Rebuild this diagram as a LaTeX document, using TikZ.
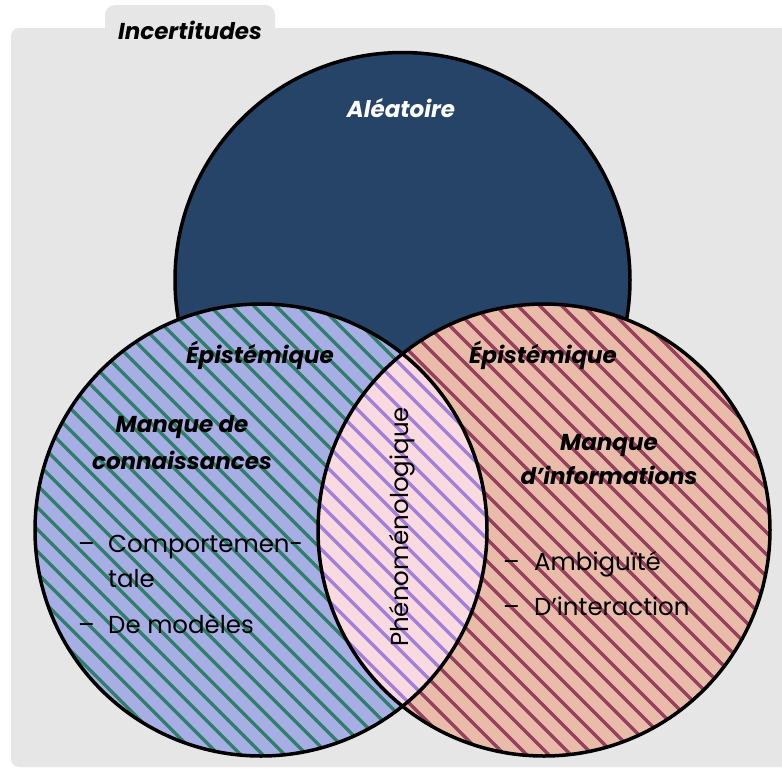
\documentclass[tikz,border=0pt]{standalone}
\usepackage{fontspec}
\setmainfont{Poppins}
\definecolor{bgGray}{HTML}{E6E6E6}
\definecolor{navy}{HTML}{264468}
\definecolor{leftFill}{HTML}{A7AEE3}
\definecolor{leftLine}{HTML}{2F7F6C}
\definecolor{rightFill}{HTML}{E8BCA8}
\definecolor{rightLine}{HTML}{96405F}
\definecolor{lensFill}{HTML}{F9DAE0}
\definecolor{lensLine}{HTML}{A37FD9}
\tikzset{
  outline/.style={draw=black, line width=3.5pt},
  hatch/.style={line width=3.2pt, draw=#1},
  boldlab/.style={font=\fontsize{23}{36}\selectfont\bfseries\itshape, inner sep=0pt, align=center},
  item/.style={font=\fontsize{24.5}{30}\selectfont, inner sep=0pt, anchor=base west},
}
\newcommand\hatchfill[1]{\foreach \c in {-800,-778,...,800} {\draw[hatch=#1] (\c,0) -- ++(800,800);}}
\begin{document}
\begin{tikzpicture}[x=1pt,y=-1pt]
\useasboundingbox (0,0) rectangle (782,769);
% background panel with tab
\fill[bgGray, rounded corners=10pt] (105,5) rectangle (275,45);
\fill[bgGray, rounded corners=8pt] (11,28) rectangle (800,767);
\coordinate (T) at (402.5,280);
\coordinate (L) at (261,530);
\coordinate (R) at (544,530);
% top circle
\fill[navy] (T) circle[radius=227.5];
\draw[outline] (T) circle[radius=227.5];
% left circle
\begin{scope}
  \clip (L) circle[radius=226];
  \fill[leftFill] (L) circle[radius=226];
  \hatchfill{leftLine}
\end{scope}
% right circle
\begin{scope}
  \clip (R) circle[radius=226];
  \fill[rightFill] (R) circle[radius=226];
  \hatchfill{rightLine}
\end{scope}
% lens
\begin{scope}
  \clip (L) circle[radius=226];
  \clip (R) circle[radius=226];
  \fill[lensFill] (R) circle[radius=226];
  \hatchfill{lensLine}
\end{scope}
\draw[outline] (L) circle[radius=226];
\draw[outline] (R) circle[radius=226];
% texts
\node[boldlab] (inc) at (190,30) {Incertitudes};
\node[boldlab, text=white] (ale) at (401,108) {Aléatoire};
\node[boldlab] (epiL) at (260,355) {Épistémique};
\node[boldlab] (epiR) at (543,355) {Épistémique};
\node[boldlab, font=\fontsize{23}{37}\selectfont\bfseries\itshape] (mcL) at (182,443) {Manque de\\connaissances};
\node[boldlab, font=\fontsize{23}{34}\selectfont\bfseries\itshape] (mcR) at (609,460) {Manque\\d’informations};
\node[item] (d1) at (78,552) {–};
\node[item] (t1) at (108,552) {Comportemen-};
\node[item] (t1b) at (108,587) {tale};
\node[item] (d2) at (78,633) {–};
\node[item] (t2) at (108,633) {De modèles};
\node[item] (d3) at (503,570) {–};
\node[item] (t3) at (534,570) {Ambiguïté};
\node[item] (d4) at (503,615) {–};
\node[item] (t4) at (534,615) {D’interaction};
\node[font=\fontsize{24.5}{30}\selectfont, inner sep=0pt, rotate=90] (phe) at (402,527) {Phénoménologique};
\end{tikzpicture}
\end{document}
